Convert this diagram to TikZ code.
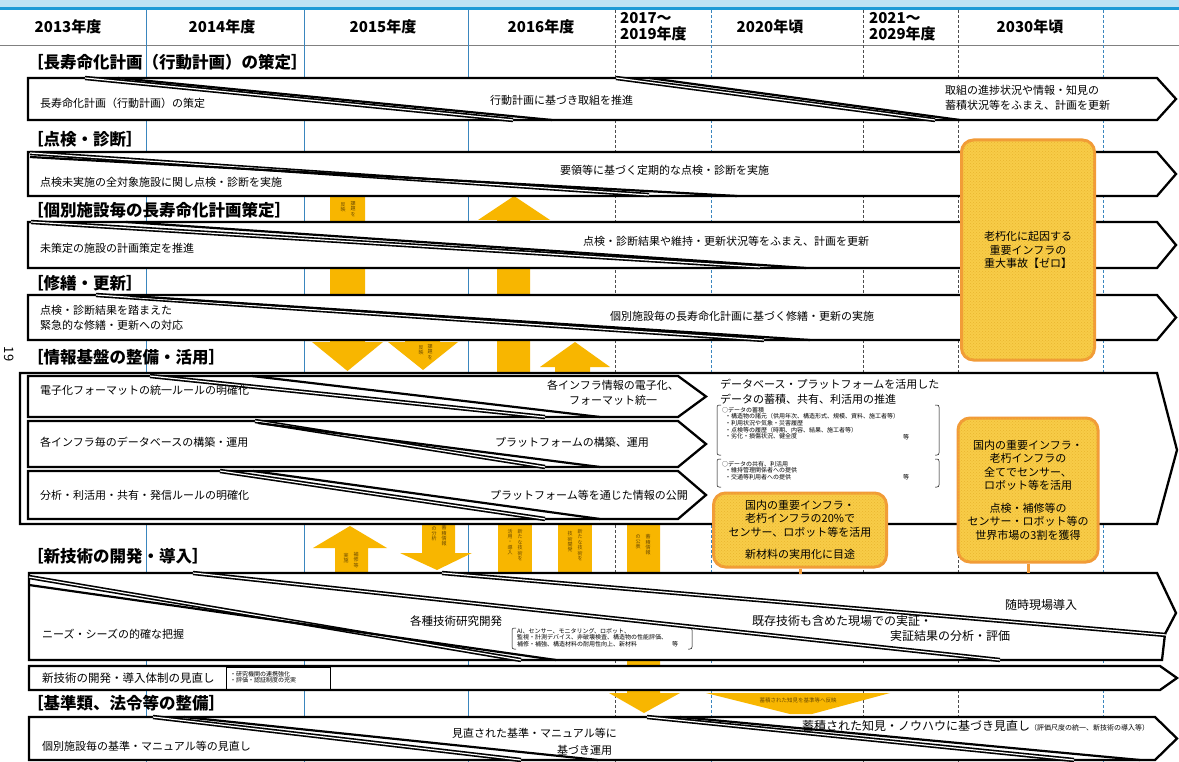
\documentclass[tikz,border=0pt]{standalone}
\usepackage{fontspec}
\setmainfont{Noto Sans CJK JP}
\usetikzlibrary{calc,patterns}
\definecolor{org}{HTML}{F8B600}
\definecolor{cobd}{HTML}{F29B38}
\definecolor{cofl}{HTML}{F8CC48}
\definecolor{codt}{HTML}{E9B52E}
\definecolor{hblue}{HTML}{1F9AD6}
\definecolor{lblue}{HTML}{BFE2F4}
\definecolor{gblue}{HTML}{3A86BE}
\definecolor{vtc}{HTML}{6B4A00}
\newcommand\rowarr[5]{\draw[arr] (#3,#1) -- (#4,#1) -- (#5,{(#1+#2)/2}) -- (#4,#2) -- (#3,#2) -- cycle;}
\begin{document}
\begin{tikzpicture}[x=1pt,y=-1pt,
 arr/.style={draw=black, line width=2.3pt, fill=white, line join=miter},
 dg/.style={draw=black, line width=1.6pt, double=white, double distance=1.2pt},
 dl/.style={draw=black, line width=2.2pt},
 hdr/.style={font=\fontsize{15}{16}\selectfont\bfseries, inner sep=0, align=left},
 sec/.style={anchor=west, font=\fontsize{16.5}{18}\selectfont\bfseries, inner sep=0},
 tx/.style={anchor=west, font=\fontsize{11}{15}\selectfont, inner sep=0, align=left},
 txc/.style={font=\fontsize{11}{15}\selectfont, inner sep=0, align=center},
 small/.style={anchor=north west, font=\fontsize{6}{6.6}\selectfont, inner sep=0, align=left},
 vt/.style={font=\fontsize{5}{5.4}\selectfont, inner sep=0, align=center, text=vtc},
 oa/.style={fill=org, draw=none},
 callout/.style={draw=cobd, line width=3pt, fill=cofl, rounded corners=12pt, align=center, font=\fontsize{11}{13.5}\selectfont, inner sep=0, postaction={pattern=crosshatch dots, pattern color=codt}},
 brk/.style={draw=black, line width=0.5pt, rounded corners=2pt}]
\useasboundingbox (0,0) rectangle (1179,762);
\fill[white] (0,0) rectangle (1179,762);
\fill[lblue] (0,0) rectangle (1179,7);
\fill[hblue] (0,7) rectangle (1179,10);
\draw[gray, line width=0.8pt] (0,45) -- (1179,45);
% grid lines
\foreach \gx in {146,304,468} \draw[gblue, line width=1pt] (\gx,10) -- (\gx,762);
\foreach \gx in {615,863,958} \draw[gray!60!black, line width=0.8pt, dash pattern=on 3pt off 2pt] (\gx,10) -- (\gx,762);
\foreach \gx in {711,1103} \draw[gblue, line width=0.9pt, dash pattern=on 3pt off 2pt] (\gx,10) -- (\gx,762);
% header
\node[hdr] (h1) at (68,27) {2013年度};
\node[hdr] (h2) at (222,27) {2014年度};
\node[hdr] (h3) at (383,27) {2015年度};
\node[hdr] (h4) at (541,27) {2016年度};
\node[hdr, anchor=west] (h5) at (620,27) {2017～\\2019年度};
\node[hdr] (h6) at (770,27) {2020年頃};
\node[hdr, anchor=west] (h7) at (869,27) {2021～\\2029年度};
\node[hdr] (h8) at (1030,27) {2030年頃};
% orange arrows (behind)
\fill[oa] (330,196) -- (365,196) -- (365,342) -- (383,342) -- (347.5,371) -- (312,342) -- (330,342) -- cycle;
\fill[oa] (405,330) -- (440,330) -- (440,342) -- (458,342) -- (423,370) -- (388,342) -- (405,342) -- cycle;
\fill[oa] (514,196) -- (550,220) -- (530,220) -- (530,380) -- (497,380) -- (497,220) -- (478,220) -- cycle;
\fill[oa] (575,342) -- (610,367) -- (590,367) -- (590,380) -- (555,380) -- (555,367) -- (540,367) -- cycle;
\fill[oa] (350,526) -- (387,548) -- (368,548) -- (368,580) -- (335,580) -- (335,548) -- (313,548) -- cycle;
\fill[oa] (422,520) -- (455,520) -- (455,553) -- (472,553) -- (437,570) -- (400,553) -- (422,553) -- cycle;
\fill[oa] (498,520) rectangle (532,580);
\fill[oa] (558,520) rectangle (592,580);
\fill[oa] (627,520) -- (660,520) -- (660,693) -- (680,693) -- (644,713) -- (609,693) -- (627,693) -- cycle;
\fill[oa] (706,693) -- (890,693) -- (812,714) -- (790,714) -- cycle;
% tiny texts in orange arrows
\node[vt] (v1a) at (353,209) {課\\題\\を};
\node[vt] (v1b) at (343,207) {反\\映};
\node[vt] (v2a) at (430,352) {課\\題\\を};
\node[vt] (v2b) at (421,350) {反\\映};
\node[vt] (v3a) at (356,560) {補\\修\\等};
\node[vt] (v3b) at (346,558) {実\\施};
\node[vt] (v4a) at (444,536) {蓄\\積\\情\\報};
\node[vt] (v4b) at (434,534) {の\\分\\析};
\node[vt] (v5a) at (520,545) {新\\た\\な\\技\\術\\を};
\node[vt] (v5b) at (510,542) {活\\用\\・\\導\\入};
\node[vt] (v6a) at (580,545) {新\\た\\な\\技\\術\\を};
\node[vt] (v6b) at (570,542) {技\\術\\開\\発};
\node[vt] (v7a) at (648,545) {蓄\\積\\情\\報};
\node[vt] (v7b) at (638,542) {の\\公\\表};
\node[font=\fontsize{5.5}{6}\selectfont, text=vtc, inner sep=0] (v8) at (798,700) {蓄積された知見を基準等へ反映};
% section titles
\node[sec] (s1) at (27,62) {［長寿命化計画（行動計画）の策定］};
\node[sec] (s2) at (27,139) {［点検・診断］};
\node[sec] (s3) at (27,210) {［個別施設毎の長寿命化計画策定］};
\node[sec] (s4) at (27,283) {［修繕・更新］};
\node[sec] (s5) at (27,357) {［情報基盤の整備・活用］};
\node[sec] (s6) at (27,556) {［新技術の開発・導入］};
\node[sec] (s7) at (27,703) {［基準類、法令等の整備］};
\node[font=\fontsize{13}{14}\selectfont, rotate=-90, inner sep=0] (pg) at (9,354) {19};
% row arrows
\rowarr{78}{120}{28}{1157}{1176}
\rowarr{152}{196}{28}{1157}{1176}
\rowarr{222}{268}{28}{1157}{1176}
\rowarr{295}{340}{28}{1157}{1176}
\draw[arr] (20,373) -- (1157,373) -- (1177,450) -- (1157,524) -- (20,524) -- cycle;
\rowarr{376}{417}{28}{678}{706}
\rowarr{421}{467}{28}{678}{706}
\rowarr{471}{519}{28}{678}{706}
\draw[arr] (29,573) -- (1157,573) -- (1176,613) -- (1165,634) -- (1162,660) -- (29,660) -- cycle;
\rowarr{666}{690}{29}{1160}{1177}
\rowarr{717}{760}{29}{1155}{1177}
% diagonals
\draw[dg] (85,78) -- (513,120);  \draw[dl] (118,78) -- (552,120);
\draw[dg] (616,78) -- (935,120); \draw[dl] (649,78) -- (960,120);
\draw[dg] (30,153) -- (649,195); \draw[dl] (30,157) -- (737,196);
\draw[dg] (31,222) -- (760,267); \draw[dl] (126,222) -- (806,268);
\draw[dg] (96,295) -- (764,340); \draw[dl] (130,296) -- (810,340);
\draw[dg] (150,376) -- (545,417); \draw[dl] (252,376) -- (600,417);
\draw[dg] (255,421) -- (545,467); \draw[dl] (258,423) -- (600,467);
\draw[dg] (220,471) -- (545,519); \draw[dl] (253,471) -- (600,519);
\draw[dg] (29,577) -- (521,660); \draw[dl] (29,585) -- (556,660);
\draw[dg] (193,573) -- (1000,660);
\draw[dg] (442,573) -- (1166,635);
\draw[dg] (153,717) -- (521,760); \draw[dl] (184,717) -- (598,760);
\draw[dg] (647,717) -- (1074,760); \draw[dl] (680,717) -- (1140,760);
% row texts
\node[tx] (t1a) at (40,103) {長寿命化計画（行動計画）の策定};
\node[tx] (t1b) at (490,100) {行動計画に基づき取組を推進};
\node[tx] (t1c) at (945,98) {取組の進捗状況や情報・知見の\\蓄積状況等をふまえ、計画を更新};
\node[tx] (t2a) at (40,182) {点検未実施の全対象施設に関し点検・診断を実施};
\node[tx] (t2b) at (560,170) {要領等に基づく定期的な点検・診断を実施};
\node[tx] (t3a) at (40,248) {未策定の施設の計画策定を推進};
\node[tx] (t3b) at (583,241) {点検・診断結果や維持・更新状況等をふまえ、計画を更新};
\node[tx] (t4a) at (40,318) {点検・診断結果を踏まえた\\緊急的な修繕・更新への対応};
\node[tx] (t4b) at (610,316) {個別施設毎の長寿命化計画に基づく修繕・更新の実施};
\node[tx] (i1a) at (40,390) {電子化フォーマットの統一ルールの明確化};
\node[txc] (i1b) at (613,393) {各インフラ情報の電子化、\\フォーマット統一};
\node[tx] (i2a) at (40,442) {各インフラ毎のデータベースの構築・運用};
\node[tx] (i2b) at (495,442) {プラットフォームの構築、運用};
\node[tx] (i3a) at (40,495) {分析・利活用・共有・発信ルールの明確化};
\node[tx] (i3b) at (490,495) {プラットフォーム等を通じた情報の公開};
\node[tx] (i4) at (720,392) {データベース・プラットフォームを活用した\\データの蓄積、共有、利活用の推進};
% data brackets
\draw[brk] (721,405) -- (717,405) -- (717,455) -- (721,455);
\draw[brk] (935,405) -- (939,405) -- (939,455) -- (935,455);
\draw[brk] (721,459) -- (717,459) -- (717,487) -- (721,487);
\draw[brk] (935,459) -- (939,459) -- (939,487) -- (935,487);
\node[small] (d1) at (722,407) {○データの蓄積\\\hspace{3pt}・構造物の諸元（供用年次、構造形式、規模、資料、施工者等）\\\hspace{3pt}・利用状況や気象・災害履歴\\\hspace{3pt}・点検等の履歴（時期、内容、結果、施工者等）\\\hspace{3pt}・劣化・損傷状況、健全度};
\node[small] (d1e) at (903,434) {等};
\node[small] (d2) at (722,461) {○データの共有、利活用\\\hspace{3pt}・維持管理関係者への提供\\\hspace{3pt}・交通等利用者への提供};
\node[small] (d2e) at (903,474) {等};
% new technology texts
\node[tx] (n1) at (42,634) {ニーズ・シーズの的確な把握};
\node[tx, font=\fontsize{11.5}{14}\selectfont] (n2) at (410,621) {各種技術研究開発};
\draw[brk] (516,628) -- (512,628) -- (512,649) -- (516,649);
\draw[brk] (688,628) -- (692,628) -- (692,649) -- (688,649);
\node[small] (n3) at (517,628) {AI、センサー、モニタリング、ロボット、\\監視・計測デバイス、非破壊検査、構造物の性能評価、\\補修・補強、構造材料の耐用性向上、新材料};
\node[small] (n3e) at (672,641) {等};
\node[tx, font=\fontsize{12}{14}\selectfont] (n4) at (752,621) {既存技術も含めた現場での実証・};
\node[tx, font=\fontsize{12}{14}\selectfont] (n5) at (890,636) {実証結果の分析・評価};
\node[tx, font=\fontsize{12}{14}\selectfont] (n6) at (1005,605) {随時現場導入};
\node[tx, font=\fontsize{11.5}{14}\selectfont] (n7) at (42,678) {新技術の開発・導入体制の見直し};
\draw[line width=0.5pt] (226,667) rectangle (330,689);
\node[small] (n8) at (230,671) {・研究機関の連携強化\\・評価・認証制度の充実};
% standards texts
\node[tx] (b1) at (42,746) {個別施設毎の基準・マニュアル等の見直し};
\node[tx] (b2) at (452,733) {見直された基準・マニュアル等に};
\node[tx] (b3) at (557,750) {基づき運用};
\node[tx, font=\fontsize{12}{14}\selectfont] (b4) at (802,726) {蓄積された知見・ノウハウに基づき見直し{\fontsize{7}{8}\selectfont（評価尺度の統一、新技術の導入等）}};
% callouts
\node[callout, minimum width=133pt, minimum height=220pt] (c1) at (1028,250) {老朽化に起因する\\重要インフラの\\重大事故【ゼロ】};
\node[callout, minimum width=140pt, minimum height=144pt] (c3) at (1028,490) {国内の重要インフラ・\\老朽インフラの\\全てでセンサー、\\ロボット等を活用\\[9pt]点検・補修等の\\センサー・ロボット等の\\世界市場の3割を獲得};
\node[callout, minimum width=173pt, minimum height=74pt] (c2) at (800,530) {国内の重要インフラ・\\老朽インフラの20\%で\\センサー、ロボット等を活用\\[9pt]新材料の実用化に目途};
\coordinate (c2e) at (800,574);
\coordinate (c3e) at (1028,573);
\draw[cobd, line width=3pt] (c2.south) -- (c2e);
\draw[cobd, line width=3pt] (c3.south) -- (c3e);
\end{tikzpicture}
\end{document}
